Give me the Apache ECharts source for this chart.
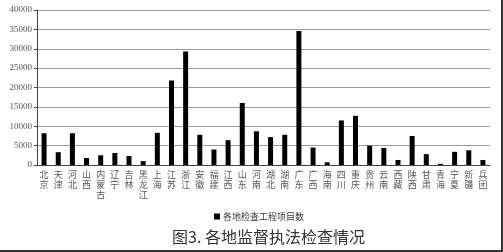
<!DOCTYPE html>
<html><head><meta charset="utf-8">
<script src="https://cdn.jsdelivr.net/npm/echarts@6/dist/echarts.min.js"></script>
<style>html,body{margin:0;padding:0;background:#fff}#c{width:503px;height:252px}</style>
</head><body><div id="c"></div>
<script>
const categories = ["北京","天津","河北","山西","内蒙古","辽宁","吉林","黑龙江","上海","江苏","浙江","安徽","福建","江西","山东","河南","湖北","湖南","广东","广西","海南","四川","重庆","贵州","云南","西藏","陕西","甘肃","青海","宁夏","新疆","兵团"];
const projectCounts = [8200,3300,8200,1800,2500,3100,2300,1000,8300,21800,29300,7800,4000,6400,16000,8700,7200,7800,34600,4500,700,11500,12700,5000,4400,1300,7500,2800,300,3400,3800,1300];
const seriesName = "各地检查工程项目数";
const chartTitle = "图3. 各地监督执法检查情况";
const yTicks = {min:0, max:40000, interval:5000};

const chart = echarts.init(document.getElementById('c'), null, {renderer:'canvas'});
chart.setOption({
  animation:false,
  backgroundColor:'#fff',
  title:{text:chartTitle, left:167, top:224, textStyle:{fontSize:16, fontWeight:'normal', color:'#333', fontFamily:'Noto Sans CJK SC'}},
  legend:{data:[seriesName], left:209, top:207, itemWidth:6, itemHeight:6, itemGap:4, icon:'rect',
    textStyle:{fontSize:9, color:'#333', fontFamily:'Noto Sans CJK SC', padding:[0,0,0,-2]}},
  grid:{left:37, right:13, top:10, bottom:87, containLabel:false},
  xAxis:{type:'category', data:categories,
    axisLine:{lineStyle:{color:'#444', width:1}},
    axisTick:{show:false},
    axisLabel:{interval:0, margin:5, fontSize:9, lineHeight:10, color:'#555', fontFamily:'Noto Sans CJK SC',
      formatter:v=>v.split('').join('\n')}},
  yAxis:{type:'value', min:yTicks.min, max:yTicks.max, interval:yTicks.interval,
    axisLine:{show:true, lineStyle:{color:'#444', width:1}},
    axisTick:{show:true, length:3, lineStyle:{color:'#444'}},
    axisLabel:{fontSize:9, color:'#555', fontFamily:'Liberation Serif', margin:5, formatter:v=>String(v)},
    splitLine:{lineStyle:{color:'#9a9a9a', width:1}}},
  series:[{name:seriesName, type:'bar', data:projectCounts, barWidth:5, itemStyle:{color:'#000'}}],
  graphic:[
    {type:'rect', shape:{x:501, y:0, width:2, height:252}, style:{fill:'#333'}},
    {type:'rect', shape:{x:0, y:250, width:503, height:2}, style:{fill:'#333'}}
  ]
});
</script></body></html>
